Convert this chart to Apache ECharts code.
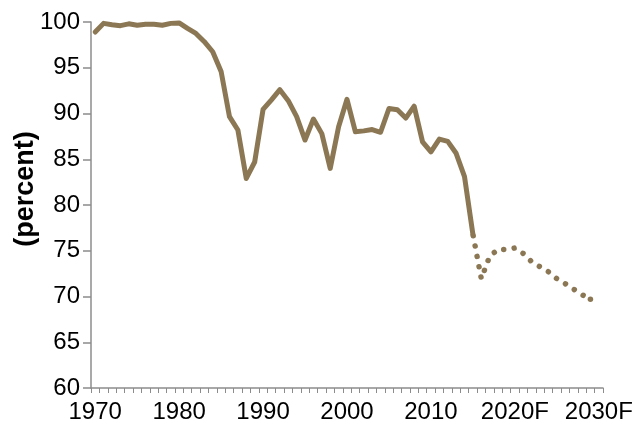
<!DOCTYPE html>
<html>
<head>
<meta charset="utf-8">
<script src="https://cdn.jsdelivr.net/npm/echarts@6/dist/echarts.min.js"></script>
<style>
html,body{margin:0;padding:0;background:#fff;}
#chart{width:635px;height:430px;}
</style>
</head>
<body>
<div id="chart"></div>
<script>
// Categories: years 1970..2030
var years = ['1970','1971','1972','1973','1974','1975','1976','1977','1978','1979',
  '1980','1981','1982','1983','1984','1985','1986','1987','1988','1989',
  '1990','1991','1992','1993','1994','1995','1996','1997','1998','1999',
  '2000','2001','2002','2003','2004','2005','2006','2007','2008','2009',
  '2010','2011','2012','2013','2014','2015','2016','2017','2018','2019',
  '2020','2021','2022','2023','2024','2025','2026','2027','2028','2029','2030'];

// Historical values, 1970..2015 (percent)
var actualValues = [98.9, 99.85, 99.7, 99.6, 99.8, 99.65, 99.75, 99.75, 99.65, 99.85,
  99.9, 99.3, 98.75, 97.85, 96.75, 94.6, 89.65, 88.2, 82.9, 84.7,
  90.45, 91.5, 92.6, 91.4, 89.65, 87.1, 89.4, 87.8, 84.0, 88.55,
  91.55, 88.0, 88.1, 88.25, 87.95, 90.55, 90.4, 89.5, 90.8, 86.9,
  85.8, 87.2, 86.95, 85.65, 83.1, 76.8];

// Forecast values, 2015..2029 (percent)
var forecastYears = ['2015','2016','2017','2018','2019','2020','2021','2022','2023','2024',
  '2025','2026','2027','2028','2029'];
var forecastValues = [76.8, 71.95, 74.4, 75.15, 75.15, 75.3, 74.7, 73.8, 73.25, 72.7,
  71.95, 71.4, 70.8, 70.2, 69.7];

// Tick labels
var yTicks = [60, 65, 70, 75, 80, 85, 90, 95, 100];
var xLabelYears = ['1970','1980','1990','2000','2010','2020','2030'];
var forecastStart = 2020;

var actualSeries = years.map(function (y) {
  var i = years.indexOf(y);
  return i < actualValues.length ? actualValues[i] : '-';
});
var forecastSeries = years.map(function (y) {
  var i = forecastYears.indexOf(y);
  return i >= 0 ? forecastValues[i] : '-';
});
var lastForecastIndex = years.indexOf(forecastYears[forecastYears.length - 1]);

var lineColor = '#8B7753';
var axisColor = '#8c8c8c';

var chart = echarts.init(document.getElementById('chart'));
chart.setOption({
  animation: false,
  backgroundColor: '#ffffff',
  grid: { left: 91, right: 32, top: 22, bottom: 42, containLabel: false, outerBoundsMode: 'none' },
  xAxis: {
    type: 'category',
    data: years,
    boundaryGap: true,
    axisLine: { show: true, lineStyle: { color: axisColor, width: 1.5 } },
    axisTick: { show: true, interval: 0, length: 5, inside: false, lineStyle: { color: axisColor, width: 1 } },
    axisLabel: {
      interval: function (idx, val) { return xLabelYears.indexOf(val) >= 0; },
      formatter: function (val) { return (+val >= forecastStart) ? val + 'F' : val; },
      fontFamily: 'Liberation Sans, Arial, sans-serif',
      fontSize: 24,
      color: '#000',
      margin: 12,
      hideOverlap: false
    },
    splitLine: { show: false }
  },
  yAxis: {
    type: 'value',
    min: yTicks[0],
    max: yTicks[yTicks.length - 1],
    interval: 5,
    name: '(percent)',
    nameLocation: 'middle',
    nameRotate: 90,
    nameGap: 52,
    nameMoveOverlap: false,
    nameTextStyle: {
      fontFamily: 'Liberation Sans, Arial, sans-serif',
      fontSize: 27,
      fontWeight: 'bold',
      color: '#000',
      padding: [0, 0, 0, 32]
    },
    axisLine: { show: true, lineStyle: { color: axisColor, width: 1.5 } },
    axisTick: { show: true, length: 8, lineStyle: { color: axisColor, width: 1.5 } },
    axisLabel: {
      fontFamily: 'Liberation Sans, Arial, sans-serif',
      fontSize: 24,
      color: '#000',
      margin: 11
    },
    splitLine: { show: false }
  },
  series: [
    {
      name: 'Actual',
      type: 'line',
      data: actualSeries,
      symbol: 'none',
      smooth: false,
      lineStyle: { color: lineColor, width: 5, cap: 'round', join: 'round' },
      z: 3
    },
    {
      name: 'Forecast',
      type: 'line',
      data: forecastSeries,
      symbol: function (value, params) {
        return params.dataIndex === lastForecastIndex ? 'circle' : 'none';
      },
      symbolSize: 5.5,
      showSymbol: true,
      itemStyle: { color: lineColor, borderWidth: 0 },
      smooth: false,
      lineStyle: { color: lineColor, width: 5.5, type: [0.01, 10.5], dashOffset: -12, cap: 'round', join: 'round' },
      z: 2
    }
  ]
});
</script>
</body>
</html>
